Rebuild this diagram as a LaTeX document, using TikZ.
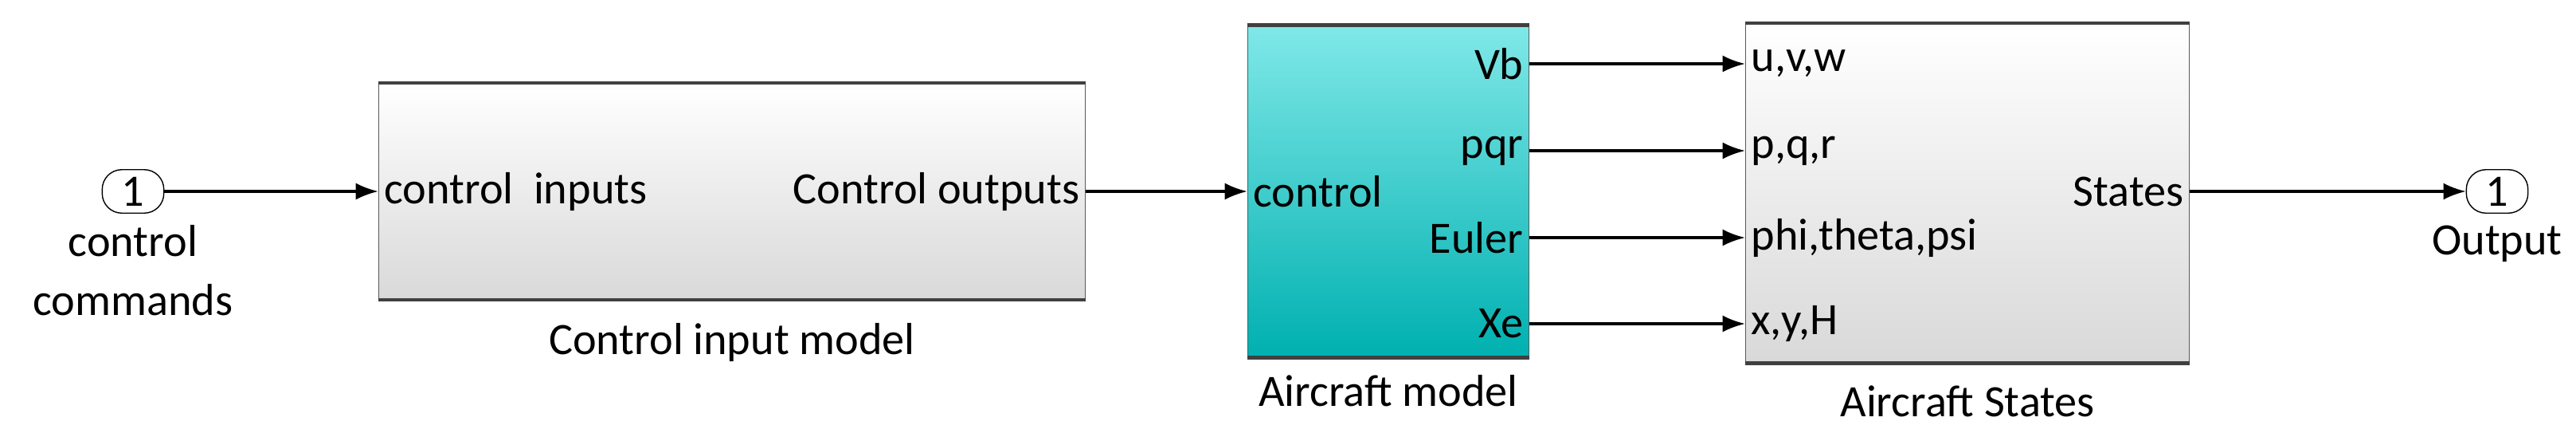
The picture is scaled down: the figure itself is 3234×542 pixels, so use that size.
\documentclass[tikz,border=0pt]{standalone}
\usepackage{fontspec}
\setmainfont{Carlito}
\usetikzlibrary{arrows.meta, positioning}
\tikzstyle{sub_block} = [
    draw=gray!70!black,
    line width=0.4pt,
    top color=white,
    bottom color=gray!30,
    inner sep=0pt
]
\tikzstyle{plant_block} = [
    draw=gray!70!black,
    line width=0.4pt,
    top color={rgb,255:red,128;green,232;blue,232},
    bottom color={rgb,255:red,0;green,176;blue,176},
    inner sep=0pt
]
\tikzstyle{port} = [
    draw=black,
    rounded corners=7pt,
    minimum width=22pt,
    minimum height=15.5pt,
    inner sep=0pt
]
\tikzstyle{txt} = [
    font=\fontsize{16}{21}\selectfont,
    inner sep=2pt
]
\tikzstyle{wire} = [
    line width=0.9pt,
    -{Latex[length=8pt,width=6pt]}
]

\begin{document}
\begin{tikzpicture}[x=0.01cm, y=-0.01cm]
\useasboundingbox (0,0) rectangle (3234,542);
% blocks
\node [sub_block, minimum width=887*0.01cm, minimum height=271*0.01cm] (cim) at (919,240) {};
\node [plant_block, minimum width=353*0.01cm, minimum height=416*0.01cm] (acm) at (1743,240) {};
\node [sub_block, minimum width=557*0.01cm, minimum height=425*0.01cm] (acs) at (2470,242) {};
\foreach \b in {cim, acm, acs} {
    \draw [line width=1.3pt, black!75] (\b.north west) -- (\b.north east);
    \draw [line width=1.3pt, black!75] (\b.south west) -- (\b.south east);
}
% ports
\node [port, txt, inner sep=0pt] (cmd) at (167,240) {1};
\node [port, txt, inner sep=0pt] (out) at (3135,240) {1};
\node [txt, align=center, below=2pt of cmd] {control\\commands};
\node [txt, below=2pt of out] {Output};
% block names
\node [txt, below=6pt of cim] {Control input model};
\node [txt, below=4pt of acm] {Aircraft model};
\node [txt, below=6pt of acs] {Aircraft States};
% port labels
\node [txt, anchor=west] at (cim.west) {control\ \ inputs};
\node [txt, anchor=east] at (cim.east) {Control outputs};
\node [txt, anchor=west] at (acm.west |- 0,240) {control};
\node [txt, anchor=east] at (acs.east |- 0,240) {States};
\foreach \y/\o/\i [count=\k] in {80/Vb/{u,v,w}, 189/pqr/{p,q,r}, 298/Euler/{phi,theta,psi}, 406/Xe/{x,y,H}} {
    \coordinate (o\k) at (acm.east |- 0,\y);
    \coordinate (i\k) at (acs.west |- 0,\y);
    \node [txt, anchor=east] at (o\k) {\o};
    \node [txt, anchor=west] at (i\k) {\i};
    \draw [wire] (o\k) -- (i\k);
}
% wires
\draw [wire] (cmd) -- (cim);
\draw [wire] (cim) -- (acm);
\draw [wire] (acs.east |- 0,240) -- (out);
\end{tikzpicture}
\end{document}
